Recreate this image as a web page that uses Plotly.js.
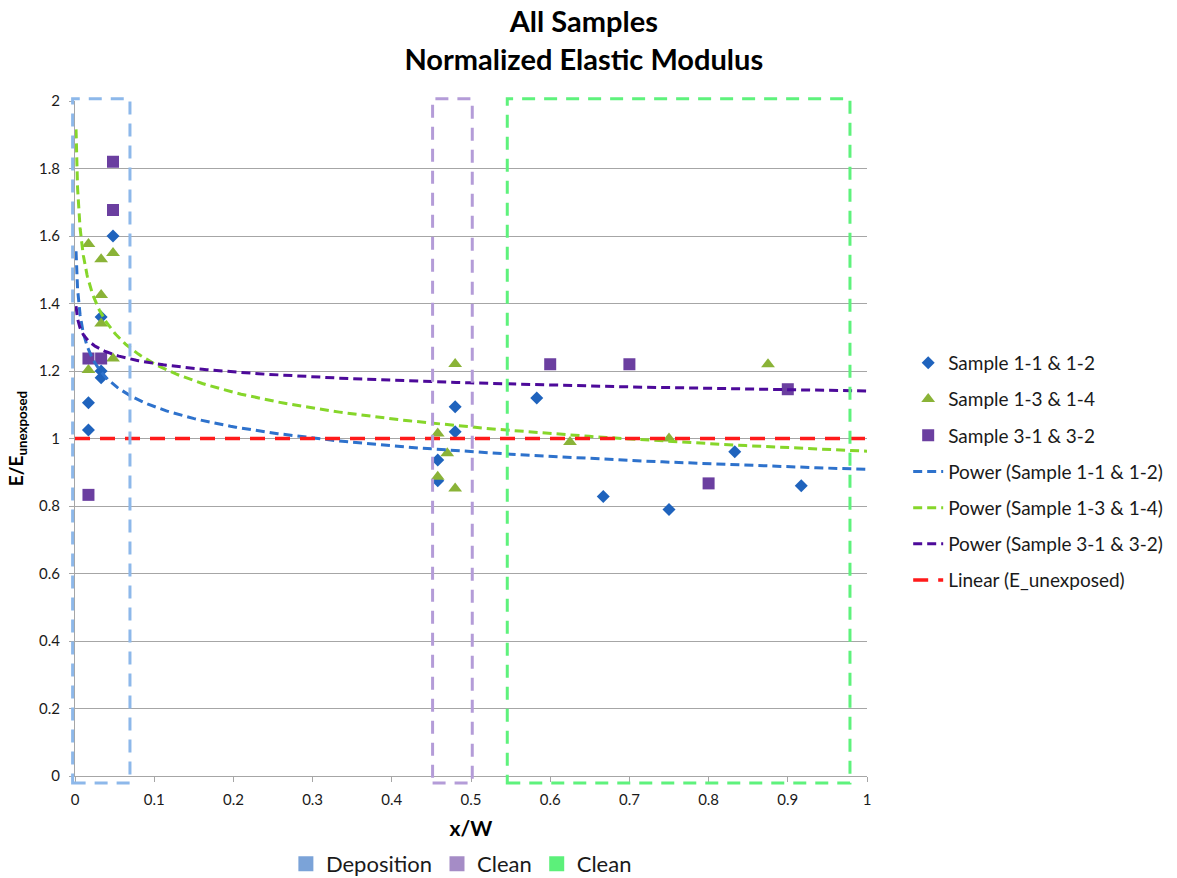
<!DOCTYPE html>
<html>
<head>
<meta charset="utf-8">
<script src="https://cdn.plot.ly/plotly-3.0.1.min.js"></script>
<style>
html,body{margin:0;padding:0;background:#fff;}
#chart{width:1177px;height:878px;}
</style>
</head>
<body>
<div id="chart"></div>
<script>
// ---- Data ----
const sample11X = [0.017, 0.017, 0.033, 0.033, 0.033, 0.048, 0.458, 0.458, 0.48, 0.48, 0.583, 0.667, 0.75, 0.833, 0.917];
const sample11Y = [1.025, 1.106, 1.18, 1.20, 1.36, 1.60, 0.875, 0.936, 1.02, 1.094, 1.12, 0.828, 0.79, 0.961, 0.86];

const sample13X = [0.017, 0.017, 0.033, 0.033, 0.033, 0.048, 0.048, 0.458, 0.47, 0.458, 0.48, 0.48, 0.625, 0.75, 0.875];
const sample13Y = [1.576, 1.203, 1.531, 1.425, 1.341, 1.55, 1.237, 1.015, 0.956, 0.887, 0.852, 1.221, 0.99, 1.0, 1.22];

const sample31X = [0.048, 0.048, 0.017, 0.033, 0.017, 0.6, 0.7, 0.8, 0.9];
const sample31Y = [1.82, 1.677, 1.237, 1.237, 0.833, 1.22, 1.22, 0.867, 1.146];

const eUnexposedX = [0, 1];
const eUnexposedY = [1, 1];

const seriesNames = ['Sample 1-1 & 1-2', 'Sample 1-3 & 1-4', 'Sample 3-1 & 3-2'];
const trendNames = ['Power (Sample 1-1 & 1-2)', 'Power (Sample 1-3 & 1-4)', 'Power (Sample 3-1 & 3-2)', 'Linear (E_unexposed)'];

const regionNames = ['Deposition', 'Clean', 'Clean'];
const regionX0 = [-0.003, 0.4515, 0.5458];
const regionX1 = [0.0694, 0.5016, 0.9785];
const regionYBottom = -0.021;
const regionYTop = 2.007;

const xTickVals = [0, 0.1, 0.2, 0.3, 0.4, 0.5, 0.6, 0.7, 0.8, 0.9, 1];
const yTickVals = [0, 0.2, 0.4, 0.6, 0.8, 1, 1.2, 1.4, 1.6, 1.8, 2];

// ---- Styles ----
const markerColors = ['#1F63BD', '#8AB337', '#6B3FA0'];
const markerSymbols = ['diamond', 'triangle-up', 'square'];
const markerSizes = [10, 12, 12];
const trendColors = ['#2E72CC', '#86D62A', '#4D0A9A'];
const regionLineColors = ['#8DB8EA', '#B49CD8', '#5EF27C'];
const regionLegendColors = ['#7BA3D8', '#A58CC6', '#5CF07A'];
const FONT = 'Lato, "Open Sans", sans-serif';

// Power-law least squares fit (as Excel's power trendline)
function powerFit(xs, ys) {
  const n = xs.length;
  let sx = 0, sy = 0, sxx = 0, sxy = 0;
  for (let i = 0; i < n; i++) {
    const lx = Math.log(xs[i]), ly = Math.log(ys[i]);
    sx += lx; sy += ly; sxx += lx * lx; sxy += lx * ly;
  }
  const b = (n * sxy - sx * sy) / (n * sxx - sx * sx);
  const a = Math.exp((sy - b * sx) / n);
  return {a, b};
}
function trendCurve(fit) {
  const xs = [], ys = [];
  const x0 = 0.0013, x1 = 1, N = 200;
  for (let i = 0; i <= N; i++) {
    const x = x0 * Math.pow(x1 / x0, i / N);
    xs.push(x); ys.push(fit.a * Math.pow(x, fit.b));
  }
  return {xs, ys};
}

const sampleX = [sample11X, sample13X, sample31X];
const sampleY = [sample11Y, sample13Y, sample31Y];

const traces = [];
for (let i = 0; i < 3; i++) {
  traces.push({
    type: 'scatter', mode: 'markers', name: seriesNames[i],
    x: sampleX[i], y: sampleY[i], legendgroup: 'g' + i,
    marker: {symbol: markerSymbols[i], size: markerSizes[i], color: markerColors[i]},
    hoverinfo: 'x+y'
  });
}
for (let i = 0; i < 3; i++) {
  const c = trendCurve(powerFit(sampleX[i], sampleY[i]));
  traces.push({
    type: 'scatter', mode: 'lines', name: trendNames[i],
    x: c.xs, y: c.ys, legendgroup: 'p' + i,
    line: {color: trendColors[i], width: 3, dash: '9px,5px'},
    hoverinfo: 'skip'
  });
}
traces.push({
  type: 'scatter', mode: 'lines', name: trendNames[3],
  x: eUnexposedX, y: eUnexposedY, legendgroup: 'lin',
  line: {color: '#FF1A1A', width: 3.5, dash: '15px,10px'},
  hoverinfo: 'skip'
});
// bottom legend entries for the highlighted regions
for (let i = 0; i < regionNames.length; i++) {
  traces.push({
    type: 'scatter', mode: 'markers', name: regionNames[i],
    x: [null], y: [null], legend: 'legend2', legendgroup: 'r' + i,
    marker: {symbol: 'square', size: 15, color: regionLegendColors[i]},
    showlegend: true, hoverinfo: 'skip'
  });
}

const yMax = 2;
const shapes = regionNames.map((nm, i) => ({
  type: 'rect', xref: 'paper', yref: 'paper',
  x0: regionX0[i], x1: regionX1[i], y0: regionYBottom / yMax, y1: regionYTop / yMax,
  line: {color: regionLineColors[i], width: 3, dash: '13px,9px'},
  fillcolor: 'rgba(0,0,0,0)', layer: 'above'
}));

const layout = {
  width: 1177, height: 878,
  margin: {l: 75, r: 310, t: 101, b: 102, autoexpand: false},
  paper_bgcolor: '#ffffff', plot_bgcolor: '#ffffff',
  font: {family: FONT, color: '#1a1a1a', size: 15},
  title: {
    text: '<b>All Samples</b><br><b>Normalized Elastic Modulus</b>',
    font: {family: FONT, size: 29, color: '#000'},
    x: 0.496, xref: 'container', xanchor: 'center',
    y: 0.963, yref: 'container', yanchor: 'top'
  },
  xaxis: {
    range: [0, 1], tickvals: xTickVals, showgrid: false, zeroline: false,
    showline: true, linecolor: '#A6A6A6', linewidth: 1,
    ticks: 'outside', ticklen: 5, tickcolor: '#A6A6A6', ticklabelstandoff: 5,
    tickfont: {family: FONT, size: 15, color: '#1a1a1a'},
    title: {text: '<b>x/W</b>', font: {family: FONT, size: 21, color: '#000'}, standoff: 14},
    fixedrange: true
  },
  yaxis: {
    range: [0, 2], tickvals: yTickVals, showgrid: true, gridcolor: '#A6A6A6', gridwidth: 1,
    zeroline: false, showline: true, linecolor: '#A6A6A6', linewidth: 1,
    ticks: 'outside', ticklen: 5, tickcolor: '#A6A6A6', ticklabelstandoff: 6,
    tickfont: {family: FONT, size: 15, color: '#1a1a1a'},
    title: {text: '<b>E/E<sub>unexposed</sub></b>', font: {family: FONT, size: 19, color: '#000'}, standoff: 10},
    fixedrange: true
  },
  legend: {
    x: 1.052, xanchor: 'left', y: 0.64, yanchor: 'top',
    font: {family: FONT, size: 19, color: '#1a1a1a'},
    tracegroupgap: 8.5, bgcolor: 'rgba(0,0,0,0)', traceorder: 'grouped'
  },
  legend2: {
    orientation: 'h', xref: 'container', yref: 'container',
    x: 0.392, xanchor: 'center', y: 0.016, yanchor: 'middle',
    font: {family: FONT, size: 22, color: '#1a1a1a'},
    bgcolor: 'rgba(0,0,0,0)'
  },
  shapes: shapes,
  showlegend: true
};

Plotly.newPlot('chart', traces, layout, {displayModeBar: false, staticPlot: true});
</script>
</body>
</html>
